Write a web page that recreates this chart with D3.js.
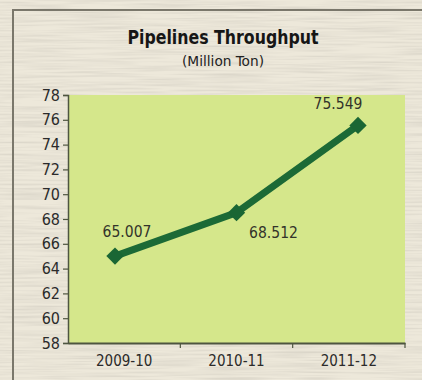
<!DOCTYPE html>
<html>
<head>
<meta charset="utf-8">
<script src="https://cdn.jsdelivr.net/npm/d3@7/dist/d3.min.js"></script>
<style>
  html, body { margin: 0; padding: 0; background: #ebe6d6; }
  svg { display: block; }
  text { font-family: "Liberation Sans Narrow", "DejaVu Sans Condensed", "Liberation Sans", sans-serif; }
</style>
</head>
<body>
<script>
// Pipelines throughput, million tonnes per year
const years = ["2009-10", "2010-11", "2011-12"];
const throughput = [65.007, 68.512, 75.549];
const valueLabels = ["65.007", "68.512", "75.549"];
const yTicks = [58, 60, 62, 64, 66, 68, 70, 72, 74, 76, 78];
const titleText = "Pipelines Throughput";
const subtitleText = "(Million Ton)";

const W = 422, H = 380;
const plot = { left: 68, right: 405, top: 95, bottom: 343 };

const svg = d3.select("body").append("svg")
  .attr("width", W).attr("height", H);

// paper texture for the background
const defs = svg.append("defs");
const f = defs.append("filter").attr("id", "paper")
  .attr("x", 0).attr("y", 0).attr("width", "100%").attr("height", "100%");
f.append("feTurbulence").attr("type", "fractalNoise")
  .attr("baseFrequency", "0.015 0.5").attr("numOctaves", 2).attr("seed", 7);
f.append("feColorMatrix").attr("type", "matrix")
  .attr("values", "0 0 0 0 0.6  0 0 0 0 0.57  0 0 0 0 0.5  0 0 0 1.1 -0.42");

svg.append("rect").attr("width", W).attr("height", H).attr("fill", "#ede8da");
svg.append("rect").attr("width", W).attr("height", H).attr("filter", "url(#paper)");

// frame (top and left edges)
svg.append("path")
  .attr("d", d3.line()([[13, H], [13, 10], [W, 10]]))
  .attr("fill", "none").attr("stroke", "#7a776b").attr("stroke-width", 2);

// scales
const y = d3.scaleLinear().domain([58, 78]).range([plot.bottom, plot.top]);
const xBand = d3.scaleBand().domain(years).range([plot.left, plot.right]);
const xPt = d3.scalePoint().domain(years).range([115, 358]);

// plot area
svg.append("rect")
  .attr("x", plot.left).attr("y", plot.top)
  .attr("width", plot.right - plot.left).attr("height", plot.bottom - plot.top)
  .attr("fill", "#d5e78b");

// titles
svg.append("text").attr("x", 223).attr("y", 44)
  .attr("text-anchor", "middle").attr("font-weight", "bold")
  .attr("font-size", 20).attr("fill", "#161616")
  .attr("textLength", 191).attr("lengthAdjust", "spacingAndGlyphs")
  .text(titleText);
svg.append("text").attr("x", 223).attr("y", 66)
  .attr("text-anchor", "middle")
  .attr("font-size", 14).attr("fill", "#222")
  .attr("textLength", 82).attr("lengthAdjust", "spacingAndGlyphs")
  .text(subtitleText);

// y axis
const yAxis = svg.append("g")
  .attr("transform", `translate(${plot.left},0)`)
  .call(d3.axisLeft(y).tickValues(yTicks).tickSize(5).tickPadding(3).tickFormat(d3.format("d")));
yAxis.select(".domain").attr("stroke", "#4e5540").attr("stroke-width", 1.5);
yAxis.selectAll(".tick line").attr("stroke", "#4e5540").attr("stroke-width", 1.2);
yAxis.selectAll(".tick text").attr("font-size", 16).attr("fill", "#2b2b2b")
  .attr("font-family", null);

// x axis with ticks at category boundaries
const xAxis = svg.append("g")
  .attr("transform", `translate(0,${plot.bottom})`)
  .call(d3.axisBottom(xBand).tickSize(0).tickPadding(12));
xAxis.select(".domain").attr("stroke", "#4e5540").attr("stroke-width", 2);
xAxis.selectAll(".tick text").attr("font-size", 15).attr("fill", "#2b2b2b")
  .attr("font-family", null);
svg.append("g").selectAll("line").data(years).join("line")
  .attr("x1", d => xBand(d) + xBand.bandwidth())
  .attr("x2", d => xBand(d) + xBand.bandwidth())
  .attr("y1", plot.bottom).attr("y2", plot.bottom + 5)
  .attr("stroke", "#4e5540").attr("stroke-width", 1.2);

// series line
const pts = years.map((c, i) => [xPt(c), y(throughput[i])]);
svg.append("path")
  .attr("d", d3.line()(pts))
  .attr("fill", "none").attr("stroke", "#1c6a36").attr("stroke-width", 7)
  .attr("stroke-linejoin", "round");

// diamond markers
svg.append("g").selectAll("path").data(pts).join("path")
  .attr("d", d3.symbol().type(d3.symbolSquare).size(150)())
  .attr("transform", d => `translate(${d[0]},${d[1]}) rotate(45)`)
  .attr("fill", "#1a6634");

// value labels
const labelOffsets = [[12, 6 - 25], [37, 6 + 19], [-20, 6 - 22]];
svg.append("g").selectAll("text").data(pts).join("text")
  .attr("x", (d, i) => d[0] + labelOffsets[i][0])
  .attr("y", (d, i) => d[1] + labelOffsets[i][1])
  .attr("text-anchor", "middle")
  .attr("font-size", 15.5).attr("fill", "#33332a")
  .text((d, i) => valueLabels[i]);
</script>
</body>
</html>
